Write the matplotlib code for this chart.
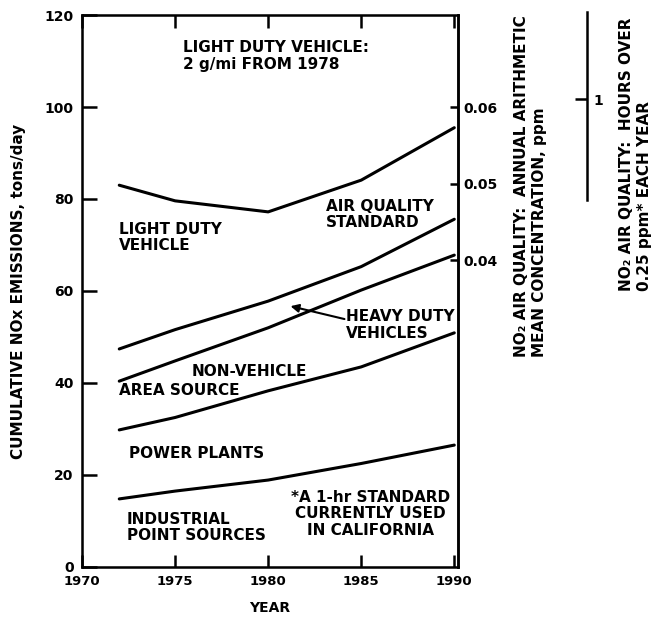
import numpy as np
import matplotlib
matplotlib.use('Agg')
from matplotlib import pyplot as plt

# values (cumulative NOx, tons/day)
years = [1972, 1975, 1980, 1985, 1990]
industrial = [14.8, 16.5, 18.9, 22.5, 26.5]
power_plants = [29.8, 32.5, 38.3, 43.5, 50.9]
area_source = [40.4, 44.8, 52.0, 60.2, 67.8]
heavy_duty = [47.4, 51.6, 57.8, 65.3, 75.6]
light_duty = [83.0, 79.6, 77.2, 84.1, 95.5]

x_ticks = [1970, 1975, 1980, 1985, 1990]
y_ticks = [0, 20, 40, 60, 80, 100, 120]
ppm_ticks = [0.04, 0.05, 0.06]
ppm_per_ton = 0.0006            # 0.06 ppm sits at 100 tons/day
hours_ticks = [1]

plt.rcParams['font.family'] = ['DejaVu Sans']
plt.rcParams['font.weight'] = 'bold'
FS = 11

fig = plt.figure(figsize=(6.61, 6.2), dpi=100)
ax = fig.add_axes([0.1241, 0.0855, 0.5688, 0.8903])

for series in (industrial, power_plants, area_source, heavy_duty, light_duty):
    ax.plot(years, series, color='black', lw=2.2, solid_capstyle='round')

ax.set_xlim(1970, 1990.2)
ax.set_ylim(0, 120)
ax.set_xticks(x_ticks)
ax.set_yticks(y_ticks)
ax.tick_params(axis='y', direction='in', length=11, width=1.8, labelsize=10, pad=6, right=False)
ax.tick_params(axis='x', direction='in', length=9, width=1.8, labelsize=9.5, pad=6, top=True)
for s in ax.spines.values():
    s.set_linewidth(1.8)
ax.set_xlabel('YEAR', fontsize=10, fontweight='bold', labelpad=9)
ax.set_ylabel('CUMULATIVE NOx EMISSIONS, tons/day', fontsize=FS, fontweight='bold')
ax.yaxis.set_label_coords(-0.148, 0.5)

# right axis: annual mean NO2 concentration
ax2 = ax.twinx()
ax2.set_ylim(0, 120 * ppm_per_ton)
ax2.set_yticks(ppm_ticks)
ax2.set_yticklabels([f'{t:.2f}' for t in ppm_ticks])
ax2.tick_params(axis='y', direction='in', length=6, width=1.8, labelsize=10, pad=4)
ax2.spines['right'].set_linewidth(1.8)
ax2.set_ylabel('NO\u2082 AIR QUALITY:  ANNUAL ARITHMETIC\nMEAN CONCENTRATION, ppm',
               fontsize=FS, fontweight='bold', multialignment='left', linespacing=1.25)
ax2.yaxis.set_label_coords(1.148, 0.69)

# outer axis: hours over 0.25 ppm
ax3 = ax.twinx()
for k in ('left', 'top', 'bottom'):
    ax3.spines[k].set_visible(False)
ax3.spines['right'].set_position(('axes', 1.343))
ax3.spines['right'].set_linewidth(1.8)
ax3.set_ylim(0, 1.18)
ax3.spines['right'].set_bounds(0.785, 1.187)
ax3.set_yticks(hours_ticks)
ax3.set_yticklabels([str(h) for h in hours_ticks])
ax3.tick_params(axis='y', direction='in', length=9, width=1.8, labelsize=10, pad=5)
ax3.set_ylabel('NO\u2082 AIR QUALITY:  HOURS OVER\n0.25 ppm* EACH YEAR',
               fontsize=FS, fontweight='bold', multialignment='left', linespacing=1.25)
ax3.yaxis.set_label_coords(1.428, 0.748)

# annotations
txt = dict(fontsize=FS, fontweight='bold', color='black', linespacing=1.12)
ax.text(1975.4, 114.5, 'LIGHT DUTY VEHICLE:\n2 g/mi FROM 1978', va='top', ha='left', **txt)
ax.text(1972.0, 75.0, 'LIGHT DUTY\nVEHICLE', va='top', ha='left', **txt)
ax.text(1983.1, 80.0, 'AIR QUALITY\nSTANDARD', va='top', ha='left', **txt)
ax.text(1984.2, 56.0, 'HEAVY DUTY\nVEHICLES', va='top', ha='left', **txt)
ax.text(1975.9, 42.6, 'NON-VEHICLE', va='center', ha='left', **txt)
ax.text(1972.0, 38.3, 'AREA SOURCE', va='center', ha='left', **txt)
ax.text(1972.5, 24.6, 'POWER PLANTS', va='center', ha='left', **txt)
ax.text(1972.4, 12.0, 'INDUSTRIAL\nPOINT SOURCES', va='top', ha='left', **txt)
ax.text(1985.5, 16.8, '*A 1-hr STANDARD\nCURRENTLY USED\nIN CALIFORNIA', va='top', ha='center',
        multialignment='center', **txt)
ax.annotate('', xy=(1981.2, 56.7), xytext=(1984.1, 53.9),
            arrowprops=dict(arrowstyle='-|>', color='black', lw=1.5, mutation_scale=12,
                            shrinkA=0, shrinkB=0))

fig.savefig('out.png', dpi=100, facecolor='white')
